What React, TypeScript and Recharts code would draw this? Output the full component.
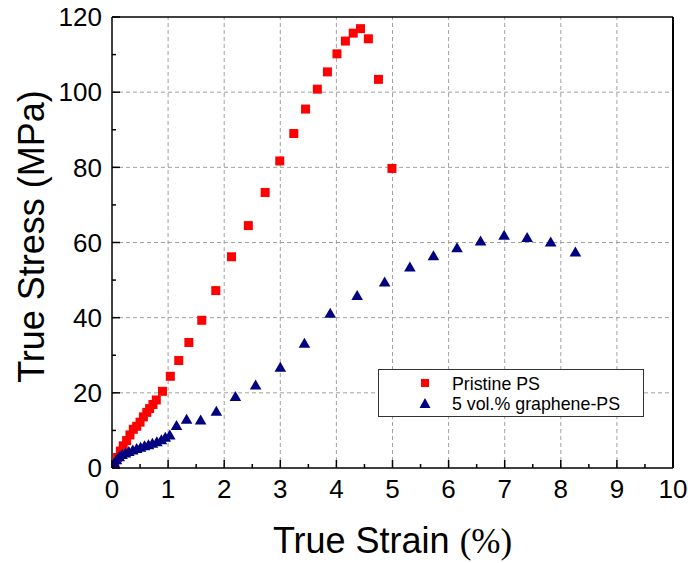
import React from 'react';
import { ScatterChart, Scatter, XAxis, YAxis, ReferenceLine, Legend } from 'recharts';

const pristineStrain = [0.05, 0.1, 0.15, 0.2, 0.26, 0.32, 0.38, 0.44, 0.5, 0.56, 0.62, 0.67, 0.73, 0.79, 0.9, 1.04, 1.19, 1.37, 1.6, 1.85, 2.13, 2.43, 2.73, 2.99, 3.24, 3.45, 3.66, 3.84, 4.01, 4.16, 4.3, 4.43, 4.57, 4.75, 4.99];
const pristineStress = [1.2, 2.8, 4.5, 5.9, 7.3, 8.8, 10.3, 11.1, 12.2, 13.6, 14.8, 15.8, 16.9, 18.1, 20.4, 24.4, 28.6, 33.4, 39.3, 47.2, 56.2, 64.5, 73.3, 81.7, 89.0, 95.5, 100.8, 105.4, 110.2, 113.6, 115.7, 116.9, 114.2, 103.4, 79.7];

const grapheneStrain = [0.04, 0.08, 0.13, 0.18, 0.24, 0.3, 0.37, 0.44, 0.51, 0.58, 0.65, 0.72, 0.8, 0.88, 0.95, 1.03, 1.15, 1.33, 1.58, 1.86, 2.2, 2.56, 3.0, 3.43, 3.89, 4.37, 4.86, 5.31, 5.73, 6.15, 6.57, 6.99, 7.4, 7.82, 8.26];
const grapheneStress = [1.3, 2.2, 3.0, 3.6, 4.0, 4.4, 4.8, 5.2, 5.5, 5.9, 6.2, 6.6, 7.0, 7.5, 8.2, 8.8, 11.3, 13.0, 12.8, 15.1, 19.0, 22.1, 26.8, 33.2, 41.2, 45.9, 49.5, 53.5, 56.5, 58.6, 60.4, 61.9, 61.3, 60.1, 57.5];

const seriesNames = ['Pristine PS', '5 vol.% graphene-PS'];
const seriesColors = ['#ff0000', '#000080'];

const xTicks = [0, 0.5, 1, 1.5, 2, 2.5, 3, 3.5, 4, 4.5, 5, 5.5, 6, 6.5, 7, 7.5, 8, 8.5, 9, 9.5, 10];
const yTicks = [0, 10, 20, 30, 40, 50, 60, 70, 80, 90, 100, 110, 120];
const xGrid = [1, 2, 3, 4, 5, 6, 7, 8, 9];
const yGrid = [20, 40, 60, 80, 100];
const xMax = 10;
const yMax = 120;

const pristineData = pristineStrain.map((x, i) => ({ x, y: pristineStress[i] }));
const grapheneData = grapheneStrain.map((x, i) => ({ x, y: grapheneStress[i] }));

const SANS = '"Liberation Sans", Arial, sans-serif';
const SERIF = '"Liberation Serif", "Times New Roman", serif';
const X_MARGIN = 12;
const Y_MARGIN = 10;

const XTick = (props: any) => {
  const { x, y, payload } = props;
  const v = payload.value;
  const major = Math.abs(v - Math.round(v)) < 1e-6;
  const axisY = y - X_MARGIN;
  return (
    <g>
      <line x1={x} x2={x} y1={axisY} y2={axisY - (major ? 8 : 4)} stroke="#000" strokeWidth={1.5} />
      {major && (
        <text x={x} y={axisY + X_MARGIN} dy="0.71em" textAnchor="middle" fontFamily={SANS} fontSize={26} fill="#000">
          {v}
        </text>
      )}
    </g>
  );
};

const YTick = (props: any) => {
  const { x, y, payload } = props;
  const v = payload.value;
  const major = v % 20 === 0;
  const axisX = x + Y_MARGIN;
  return (
    <g>
      <line x1={axisX} x2={axisX + (major ? 8 : 4)} y1={y} y2={y} stroke="#000" strokeWidth={1.5} />
      {major && (
        <text x={axisX - Y_MARGIN} y={y} dy="0.355em" textAnchor="end" fontFamily={SANS} fontSize={26} fill="#000">
          {v}
        </text>
      )}
    </g>
  );
};

const Square = (props: any) => {
  const { cx, cy, fill } = props;
  return <rect x={cx - 4.5} y={cy - 4.5} width={9} height={9} fill={fill} />;
};

const Triangle = (props: any) => {
  const { cx, cy, fill } = props;
  return <polygon points={`${cx},${cy - 5.5} ${cx - 5.8},${cy + 4.5} ${cx + 5.8},${cy + 4.5}`} fill={fill} />;
};

const LegendBox = () => (
  <svg width={266} height={48} style={{ display: 'block' }}>
    <rect x={0.5} y={0.5} width={265} height={47} fill="#fff" stroke="#333" strokeWidth={1} />
    <rect x={43} y={10} width={8} height={8} fill={seriesColors[0]} />
    <text x={74} y={20.5} fontFamily={SANS} fontSize={17.8} fill="#000">{seriesNames[0]}</text>
    <polygon points="47,29 41.5,39 52.5,39" fill={seriesColors[1]} />
    <text x={74} y={40.5} fontFamily={SANS} fontSize={17.8} fill="#000">{seriesNames[1]}</text>
  </svg>
);

const YTitle = (props: any) => {
  const vb = props.viewBox || { x: 0, y: 17, width: 112, height: 451 };
  const cx = 44;
  const cy = vb.y + vb.height / 2 - 6;
  return (
    <text x={cx} y={cy} transform={`rotate(-90, ${cx}, ${cy})`} textAnchor="middle" fontFamily={SANS} fontSize={36} fill="#000">
      True Stress (MPa)
    </text>
  );
};

const XTitle = (props: any) => {
  const vb = props.viewBox || { x: 112, y: 468, width: 561, height: 95 };
  const cx = vb.x + vb.width / 2;
  return (
    <text x={cx} y={553} textAnchor="middle" fill="#000">
      <tspan fontFamily={SANS} fontSize={36}>True Strain </tspan>
      <tspan fontFamily={SERIF} fontSize={35}>(%)</tspan>
    </text>
  );
};

export default function App() {
  return (
    <div style={{ position: 'absolute', left: 0, top: 0, width: 688, height: 563, background: '#fff' }}>
      <ScatterChart width={688} height={563} margin={{ top: 17, right: 15, left: 0, bottom: 0 }}>
        <XAxis
          dataKey="x"
          type="number"
          domain={[0, xMax]}
          ticks={xTicks}
          interval={0}
          height={95}
          tickSize={0}
          tickMargin={X_MARGIN}
          tickLine={false}
          tick={<XTick />}
          axisLine={{ stroke: '#000', strokeWidth: 1.5 }}
          label={<XTitle />}
          allowDataOverflow
        />
        <YAxis
          dataKey="y"
          type="number"
          domain={[0, yMax]}
          ticks={yTicks}
          interval={0}
          width={112}
          tickSize={0}
          tickMargin={Y_MARGIN}
          tickLine={false}
          tick={<YTick />}
          axisLine={{ stroke: '#000', strokeWidth: 1.5 }}
          label={<YTitle />}
          allowDataOverflow
        />
        {xGrid.map((g) => (
          <ReferenceLine key={`gx${g}`} x={g} stroke="#a0a0a0" strokeDasharray="4 3" strokeWidth={1} />
        ))}
        {yGrid.map((g) => (
          <ReferenceLine key={`gy${g}`} y={g} stroke="#a0a0a0" strokeDasharray="4 3" strokeWidth={1} />
        ))}
        <ReferenceLine x={xMax} stroke="#000" strokeWidth={2} />
        <ReferenceLine y={yMax} stroke="#000" strokeWidth={1.5} />
        <Legend
          layout="vertical"
          align="center"
          verticalAlign="middle"
          wrapperStyle={{ position: 'absolute', left: 378, top: 369, width: 266, height: 48 }}
          content={() => <LegendBox />}
        />
        <Scatter name={seriesNames[0]} data={pristineData} fill={seriesColors[0]} shape={<Square />} isAnimationActive={false} />
        <Scatter name={seriesNames[1]} data={grapheneData} fill={seriesColors[1]} shape={<Triangle />} isAnimationActive={false} />
      </ScatterChart>
    </div>
  );
}
